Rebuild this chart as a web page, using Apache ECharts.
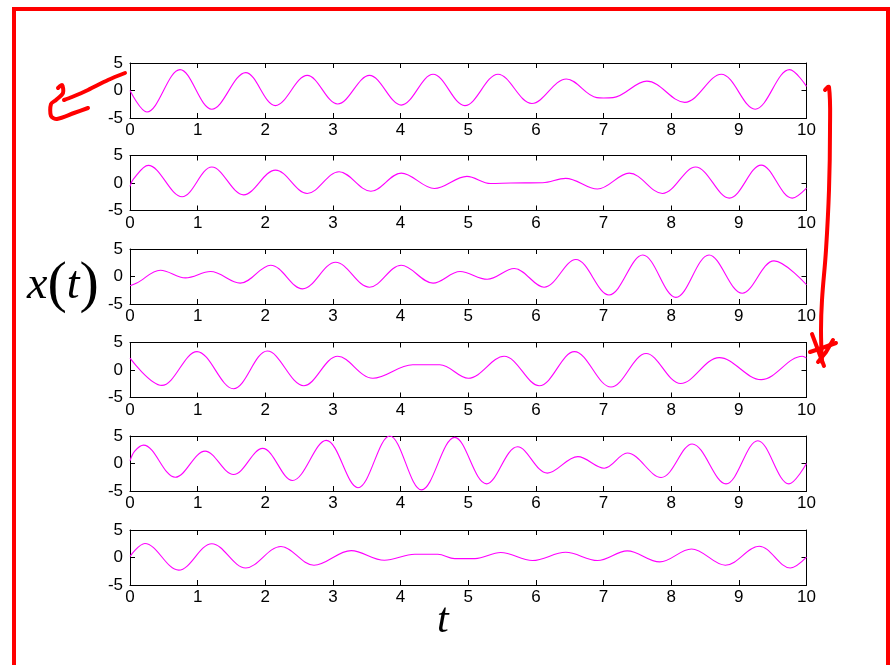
<!DOCTYPE html>
<html>
<head>
<meta charset="utf-8">
<script src="https://cdn.jsdelivr.net/npm/echarts@6/dist/echarts.min.js"></script>
<style>
html,body{margin:0;padding:0;background:#fff;}
#c{width:896px;height:665px;}
</style>
</head>
<body>
<div id="c"></div>
<script>
// ---- data (t, x) ----
const xTicks = [0,1,2,3,4,5,6,7,8,9,10];
const yTicks = [-5,0,5];
const series1 = [[0,0],[0.25,-3.9],[0.74,3.8],[1.21,-3.4],[1.71,3.25],[2.15,-2.75],[2.62,2.75],[3.07,-2.45],[3.54,2.75],[4.01,-2.65],[4.48,2.95],[4.95,-2.75],[5.44,2.95],[5.94,-2.35],[6.45,2.1],[6.9,-1.3],[7.0,-1.35],[7.14,-1.3],[7.64,1.7],[8.2,-2.15],[8.74,2.95],[9.24,-3.4],[9.75,3.8],[10,0.75]];
const series2 = [[0,-0.6],[0.05,0.7],[0.27,3.2],[0.77,-2.5],[1.21,2.9],[1.68,-2.15],[2.15,2.35],[2.62,-1.9],[3.09,2.05],[3.56,-1.5],[4.01,1.8],[4.5,-1.0],[4.98,1.2],[5.33,-0.1],[5.63,0.0],[6.1,0.05],[6.44,0.85],[6.91,-1.1],[7.38,1.8],[7.87,-1.9],[8.36,2.9],[8.86,-2.75],[9.33,3.25],[9.79,-2.75],[10,-0.95]];
const series3 = [[0,-1.7],[0.1,-1.2],[0.45,1.15],[0.82,-0.25],[1.19,0.9],[1.63,-1.2],[2.08,2.05],[2.55,-2.25],[3.04,2.6],[3.54,-1.95],[4.01,2.05],[4.48,-1.2],[4.88,0.9],[5.28,-0.5],[5.68,1.45],[6.12,-1.95],[6.59,3.1],[7.08,-3.35],[7.58,3.9],[8.07,-3.8],[8.56,3.9],[9.05,-3.05],[9.52,2.85],[10,-1.5]];
const series4 = [[0,2.15],[0.47,-2.8],[0.99,3.35],[1.53,-3.4],[2.03,3.45],[2.57,-2.85],[3.07,2.5],[3.59,-1.5],[4.18,0.95],[4.58,0.95],[5.0,-1.5],[5.53,2.5],[6.05,-2.85],[6.57,3.35],[7.11,-3.1],[7.63,3.0],[8.14,-2.45],[8.71,2.25],[9.33,-1.75],[9.94,2.5],[10,2.15]];
const series5 = [[0,0.5],[0.07,2.25],[0.2,3.35],[0.67,-2.5],[1.11,2.25],[1.53,-2.0],[1.96,2.75],[2.4,-3.1],[2.9,4.2],[3.37,-4.4],[3.84,5.0],[4.31,-4.8],[4.8,4.75],[5.27,-3.7],[5.73,3.05],[6.17,-1.75],[6.62,1.25],[7.01,-0.85],[7.35,1.9],[7.85,-2.55],[8.31,3.55],[8.81,-3.7],[9.28,4.15],[9.74,-3.7],[10,0]];
const series6 = [[0,0.2],[0.22,2.55],[0.72,-2.3],[1.21,2.5],[1.71,-1.9],[2.23,2.0],[2.72,-1.4],[3.27,1.25],[3.76,-0.5],[4.21,0.6],[4.55,0.6],[4.8,-0.2],[5.1,-0.2],[5.48,0.9],[5.95,-0.55],[6.44,0.95],[6.91,-0.55],[7.35,1.2],[7.83,-0.8],[8.3,1.55],[8.8,-1.4],[9.3,2.05],[9.76,-1.9],[10,0.05]];
const allSeries = [series1, series2, series3, series4, series5, series6];

// ---- layout ----
const tops = [63, 155.5, 249, 342.5, 436, 530];
const H = 55;
const font = 'Liberation Sans, Arial, Helvetica, sans-serif';

const grids = [], xAxes = [], yAxes = [], seriesOpt = [];
allSeries.forEach((d, i) => {
  grids.push({left:130, width:676.5, top:tops[i], height:H});
  const axisBase = {
    type:'value', gridIndex:i, min:0, max:10, interval:1,
    axisLine:{show:true, onZero:false, lineStyle:{color:'#000', width:1}},
    axisTick:{show:true, inside:true, length:5, lineStyle:{color:'#000', width:1}},
    splitLine:{show:false}
  };
  xAxes.push(Object.assign({}, axisBase, {position:'bottom',
    axisLabel:{show:true, color:'#000', fontSize:17, fontFamily:font, margin:4,
      formatter:v => xTicks.includes(v) ? String(v) : ''}}));
  xAxes.push(Object.assign({}, axisBase, {position:'top', axisLabel:{show:false}}));
  const yBase = {
    type:'value', gridIndex:i, min:yTicks[0], max:yTicks[yTicks.length-1], interval:5,
    axisLine:{show:true, onZero:false, lineStyle:{color:'#000', width:1}},
    axisTick:{show:true, inside:true, length:5, lineStyle:{color:'#000', width:1}},
    splitLine:{show:false}
  };
  yAxes.push(Object.assign({}, yBase, {position:'left',
    axisLabel:{show:true, color:'#000', fontSize:17, fontFamily:font, margin:7}}));
  yAxes.push(Object.assign({}, yBase, {position:'right', axisLabel:{show:false}}));
  seriesOpt.push({
    type:'line', xAxisIndex:2*i, yAxisIndex:2*i, data:d,
    showSymbol:false, smooth:0.36, animation:false,
    lineStyle:{color:'#ff00ff', width:1.1}
  });
});

const red = '#ff0000';
const graphics = [
  {type:'rect', shape:{x:14, y:9, width:874, height:720}, style:{fill:'none', stroke:red, lineWidth:4}, silent:true},
  // top-left arrow scribble
  {type:'polyline', shape:{points:[[125,73],[108,80],[88,90],[72,97],[64,100]], smooth:0.3},
   style:{fill:'none', stroke:red, lineWidth:4, lineCap:'round', lineJoin:'round'}},
  {type:'polyline', shape:{points:[[58,88],[62,85],[63,93],[56,100],[51,104],[51,116],[57,119],[74,113],[88,108]], smooth:0.3},
   style:{fill:'none', stroke:red, lineWidth:4, lineCap:'round', lineJoin:'round'}},
  // right vertical arrow
  {type:'polyline', shape:{points:[[825,90],[829,87],[830,130],[829,190],[826,250],[822,300],[821,330],[822,362]], smooth:0.4},
   style:{fill:'none', stroke:red, lineWidth:4, lineCap:'round', lineJoin:'round'}},
  {type:'polyline', shape:{points:[[812,334],[818,350],[824,366]]},
   style:{fill:'none', stroke:red, lineWidth:4, lineCap:'round'}},
  {type:'polyline', shape:{points:[[833,340],[826,352],[818,362]]},
   style:{fill:'none', stroke:red, lineWidth:4, lineCap:'round'}},
  {type:'polyline', shape:{points:[[810,352],[822,348],[836,343]]},
   style:{fill:'none', stroke:red, lineWidth:4, lineCap:'round'}},
  // axis titles
  {type:'text', left:27, top:257, style:{
    text:'{i|x}{p|(}{i|t}{p|)}',
    rich:{
      i:{fontFamily:'Liberation Serif, DejaVu Serif, serif', fontStyle:'italic', fontSize:46, fill:'#000'},
      p:{fontFamily:'Liberation Serif, DejaVu Serif, serif', fontSize:58, fill:'#000'}
    }}},
  {type:'text', left:437, top:600, style:{
    text:'t', fontFamily:'Liberation Serif, DejaVu Serif, serif', fontStyle:'italic', fontSize:42, fill:'#000'}}
];

const chart = echarts.init(document.getElementById('c'), null, {renderer:'canvas'});
chart.setOption({
  animation:false,
  backgroundColor:'#fff',
  grid:grids, xAxis:xAxes, yAxis:yAxes, series:seriesOpt,
  graphic:graphics
});
</script>
</body>
</html>
